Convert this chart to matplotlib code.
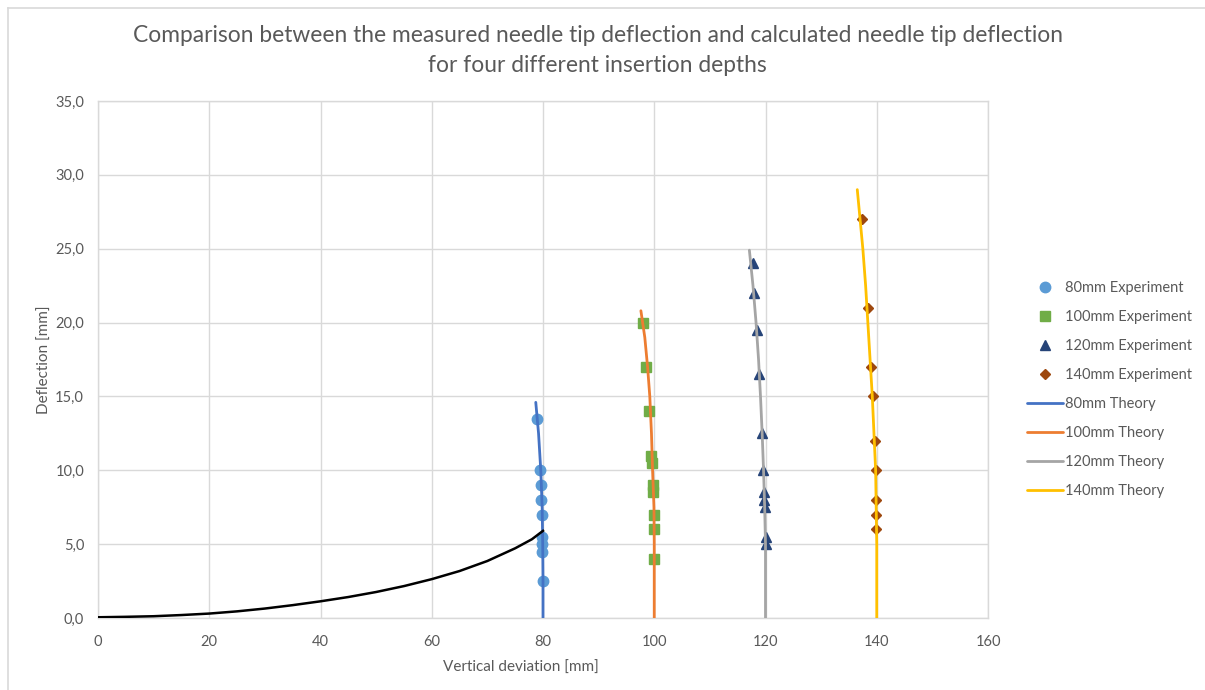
import matplotlib
matplotlib.use("Agg")
import matplotlib.pyplot as plt
from matplotlib.lines import Line2D

# ---- data ----
exp80_x = [78.9, 79.5, 79.6, 79.6, 79.8, 79.9, 79.9, 79.9, 80.0]
exp80_y = [13.5, 10.0, 9.0, 8.0, 7.0, 5.5, 5.0, 4.5, 2.5]
exp100_x = [97.9, 98.6, 99.1, 99.5, 99.6, 99.7, 99.8, 99.9, 99.9, 100.0]
exp100_y = [20.0, 17.0, 14.0, 11.0, 10.5, 9.0, 8.5, 7.0, 6.0, 4.0]
exp120_x = [117.7, 118.0, 118.5, 118.9, 119.4, 119.6, 119.8, 119.8, 119.9, 120.0, 120.0]
exp120_y = [24.0, 22.0, 19.5, 16.5, 12.5, 10.0, 8.5, 8.0, 7.5, 5.5, 5.0]
exp140_x = [137.4, 138.5, 139.0, 139.3, 139.6, 139.8, 139.8, 139.9, 139.9]
exp140_y = [27.0, 21.0, 17.0, 15.0, 12.0, 10.0, 8.0, 7.0, 6.0]

th80_x = [80.0, 80.0, 79.95, 79.85, 79.6, 79.2, 78.7]
th80_y = [0.0, 2.5, 5.0, 7.5, 10.0, 12.5, 14.6]
th100_x = [100.0, 100.0, 99.95, 99.7, 99.5, 99.2, 98.8, 98.3, 97.6]
th100_y = [0.0, 5.0, 7.5, 10.0, 12.5, 15.0, 17.0, 19.0, 20.8]
th120_x = [120.0, 120.0, 119.85, 119.65, 119.4, 119.1, 118.75, 118.3, 117.75, 117.1]
th120_y = [0.0, 5.0, 7.5, 10.0, 12.5, 15.0, 17.5, 20.0, 22.5, 24.9]
th140_x = [140.0, 140.0, 139.9, 139.8, 139.5, 139.2, 138.8, 138.4, 138.0, 137.5, 137.0, 136.5]
th140_y = [0.0, 5.0, 7.5, 10.0, 12.5, 15.0, 17.5, 20.0, 22.5, 25.0, 27.0, 29.0]

path_x = [0, 5, 10, 15, 20, 25, 30, 35, 40, 45, 50, 55, 60, 65, 70, 75, 78, 80]
path_y = [0.05, 0.08, 0.12, 0.2, 0.3, 0.45, 0.64, 0.87, 1.13, 1.42, 1.76, 2.16, 2.63, 3.18, 3.86, 4.72, 5.33, 5.9]

xticks = [0, 20, 40, 60, 80, 100, 120, 140, 160]
yticks = [0, 5, 10, 15, 20, 25, 30, 35]
ytick_labels = ["0,0", "5,0", "10,0", "15,0", "20,0", "25,0", "30,0", "35,0"]

labels_exp = ["80mm Experiment", "100mm Experiment", "120mm Experiment", "140mm Experiment"]
labels_th = ["80mm Theory", "100mm Theory", "120mm Theory", "140mm Theory"]

# ---- style ----
plt.rcParams['font.family'] = ['Lato', 'DejaVu Sans']
TXT = '#595959'
GRID = '#D9D9D9'

fig = plt.figure(figsize=(12.05, 6.9), dpi=100)
ax = fig.add_axes([98/1205, 1-618/690, 890/1205, 517/690])

# outer chart border
fig.add_artist(Line2D([8/1205, 8/1205], [0, 1-8/690], transform=fig.transFigure, color=GRID, lw=1.2))
fig.add_artist(Line2D([8/1205, 1], [1-8/690, 1-8/690], transform=fig.transFigure, color=GRID, lw=1.2))

c_exp = ['#5B9BD5', '#70AD47', '#264478', '#9E480E']
m_exp = ['o', 's', '^', 'D']
ms_exp = [7.5, 7, 6.5, 5]
c_th = ['#4472C4', '#ED7D31', '#A5A5A5', '#FFC000']

exps = [(exp80_x, exp80_y), (exp100_x, exp100_y), (exp120_x, exp120_y), (exp140_x, exp140_y)]
ths = [(th80_x, th80_y), (th100_x, th100_y), (th120_x, th120_y), (th140_x, th140_y)]

handles = []
for (x, y), c, m, ms, lab in zip(exps, c_exp, m_exp, ms_exp, labels_exp):
    h, = ax.plot(x, y, linestyle='none', marker=m, color=c, markersize=ms, label=lab, zorder=3)
    handles.append(h)
for (x, y), c, lab in zip(ths, c_th, labels_th):
    h, = ax.plot(x, y, color=c, lw=2.0, label=lab, zorder=4,
                 solid_capstyle='round', solid_joinstyle='round')
    handles.append(h)

ax.plot(path_x, path_y, color='black', lw=1.8, zorder=4, solid_joinstyle='round')

ax.set_xlim(0, 160)
ax.set_ylim(0, 35)
ax.set_xticks(xticks)
ax.set_yticks(yticks)
ax.set_yticklabels(ytick_labels)
ax.grid(True, color=GRID, lw=1.0)
ax.set_axisbelow(True)
for s in ax.spines.values():
    s.set_color(GRID)
    s.set_linewidth(1.0)
ax.tick_params(axis='both', length=0, labelsize=10.5, labelcolor=TXT)
ax.tick_params(axis='x', pad=12)
ax.tick_params(axis='y', pad=10)

ax.set_xlabel("Vertical deviation [mm]", fontsize=11, color=TXT)
ax.set_ylabel("Deflection [mm]", fontsize=11, color=TXT)
ax.xaxis.set_label_coords(0.475, -0.083)
ax.yaxis.set_label_coords(-0.052, 0.5)

fig.text(0.496, 1-35/690, "Comparison between the measured needle tip deflection and calculated needle tip deflection",
         ha='center', va='center', fontsize=16.4, color=TXT)
fig.text(0.496, 1-65/690, "for four different insertion depths",
         ha='center', va='center', fontsize=16.4, color=TXT)

leg = fig.legend(handles=handles, loc='upper left', bbox_to_anchor=(1021/1205, 1-275/690),
                 frameon=False, fontsize=10.5, labelcolor=TXT, handlelength=2.5,
                 handletextpad=0.15, labelspacing=1.03, borderaxespad=0)

fig.savefig("out.png", dpi=100)
